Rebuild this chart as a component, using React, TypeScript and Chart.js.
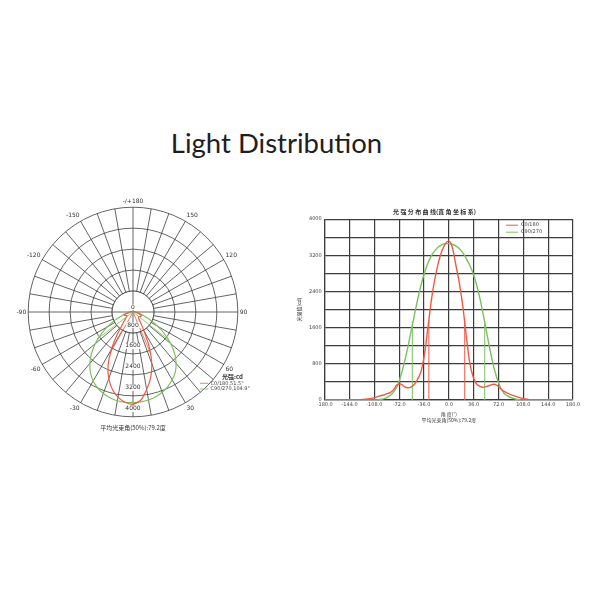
import React, { useEffect, useRef } from "react";
import { Chart, registerables } from "chart.js";

Chart.register(...registerables);

// angles in degrees, 5° apart
const angles = [
  -180, -175, -170, -165, -160, -155, -150, -145, -140, -135, -130, -125, -120,
  -115, -110, -105, -100, -95, -90, -85, -80, -75, -70, -65, -60, -55, -50, -45,
  -40, -35, -30, -25, -20, -15, -10, -5, 0, 5, 10, 15, 20, 25, 30, 35, 40, 45,
  50, 55, 60, 65, 70, 75, 80, 85, 90, 95, 100, 105, 110, 115, 120, 125, 130,
  135, 140, 145, 150, 155, 160, 165, 170, 175, 180,
];

// C0/180 intensity (cd)
const redValues = [
  0, 0, 0, 0, 0, 0, 0, 0, 0, 0, 0,
  10, 20, 30, 40, 65, 90, 110, 140, 165, 230,
  340, 355, 300, 270, 285, 350, 470, 650, 1050, 1650,
  2250, 2700, 3050, 3300, 3460, 3520, 3380, 3000, 2600, 2100,
  1450, 850, 520, 360, 300, 280, 300, 330, 350, 320,
  250, 190, 150, 120, 90, 65, 40, 25, 12, 5,
  0, 0, 0, 0, 0, 0, 0, 0, 0, 0, 0, 0,
];

// C90/270 intensity (cd)
const greenValues = [
  0, 0, 0, 0, 0, 0, 0, 0, 0, 0, 0, 0, 0, 0, 0,
  3, 10, 25, 55, 100, 180, 300, 520, 800, 1130, 1500, 1880, 2240, 2560, 2830,
  3040, 3200, 3310, 3390, 3440, 3460, 3460, 3445, 3410, 3350, 3260, 3140, 2990,
  2810, 2560, 2250, 1880, 1480, 1080, 740, 470, 270, 150, 90, 55, 28, 10, 3,
  0, 0, 0, 0, 0, 0, 0, 0, 0, 0, 0, 0, 0, 0, 0,
];

// 50% beam edges
const redHalfAngles = [-29, 23];
const greenHalfAngles = [-53, 52];
const redHalfValue = 1760;
const greenHalfValue = 1730;

const ringValues = [0, 800, 1600, 2400, 3200, 4000];
const seriesNames = ["C0/180", "C90/270"];
const polarLegendNames = ["C0/180,51.5°", "C90/270,104.9°"];

const RED = "#ef5a46";
const GREEN = "#78c25c";
const GRID = "#3c3c3c";
const FONT = "'DejaVu Sans', 'Noto Sans CJK SC', sans-serif";
const CJK = "'Noto Sans CJK SC', 'DejaVu Sans', sans-serif";

Chart.defaults.font.family = FONT;

// radar goes clockwise from the top: 180, 175, ... -175
const radarAngles = [...angles].reverse().slice(0, -1);
const radarOf = (vals: number[]) => radarAngles.map((a) => vals[angles.indexOf(a)]);

const polarDecor = {
  id: "polarDecor",
  beforeDatasetsDraw(chart: any) {
    const s = chart.scales.r;
    const ctx = chart.ctx;
    const cx = s.xCenter;
    const cy = s.yCenter;
    const r0 = s.getDistanceFromCenterForValue(ringValues[1]);
    ctx.save();
    ctx.fillStyle = "#fff";
    ctx.beginPath();
    ctx.arc(cx, cy, r0, 0, Math.PI * 2);
    ctx.fill();
    ctx.strokeStyle = GRID;
    ctx.lineWidth = 0.8;
    ctx.beginPath();
    ctx.arc(cx, cy, r0, 0, Math.PI * 2);
    ctx.moveTo(cx - r0, cy);
    ctx.lineTo(cx + r0, cy);
    ctx.moveTo(cx, cy - r0);
    ctx.lineTo(cx, cy + r0);
    ctx.stroke();
    ctx.restore();
  },
  afterDatasetsDraw(chart: any) {
    const s = chart.scales.r;
    const ctx = chart.ctx;
    const cx = s.xCenter;
    const cy = s.yCenter;
    const R = s.drawingArea;
    ctx.save();
    // beam lines
    const beam = (list: number[], v: number, color: string) => {
      const d = s.getDistanceFromCenterForValue(v);
      ctx.strokeStyle = color;
      ctx.lineWidth = 0.8;
      list.forEach((a) => {
        const t = (a * Math.PI) / 180;
        ctx.beginPath();
        ctx.moveTo(cx, cy);
        ctx.lineTo(cx + Math.sin(t) * d, cy + Math.cos(t) * d);
        ctx.stroke();
      });
    };
    beam(redHalfAngles, redHalfValue, RED);
    beam(greenHalfAngles, greenHalfValue, GREEN);

    // ring labels along the 0° direction
    ctx.font = `6px ${FONT}`;
    ctx.textAlign = "center";
    ctx.textBaseline = "middle";
    ringValues.forEach((v) => {
      const d = s.getDistanceFromCenterForValue(v);
      const y = v === 0 ? cy - 5 : cy + d - 8;
      const txt = String(v);
      const w = ctx.measureText(txt).width;
      ctx.fillStyle = "#fff";
      ctx.fillRect(cx - w / 2 - 1, y - 3, w + 2, 6);
      ctx.fillStyle = "#333";
      ctx.fillText(txt, cx, y);
    });

    // legend
    ctx.textAlign = "left";
    ctx.font = `bold 6px ${CJK}`;
    ctx.fillStyle = "#333";
    ctx.fillText("光强:cd", cx + 0.85 * R, cy + 0.62 * R);
    ctx.font = `5px ${FONT}`;
    [RED, GREEN].forEach((c, i) => {
      const y = cy + (0.68 + i * 0.055) * R;
      ctx.strokeStyle = c;
      ctx.lineWidth = 0.8;
      ctx.beginPath();
      ctx.moveTo(cx + 0.64 * R, y);
      ctx.lineTo(cx + 0.72 * R, y);
      ctx.stroke();
      ctx.fillStyle = "#444";
      ctx.fillText(polarLegendNames[i], cx + 0.74 * R, y);
    });
    ctx.restore();
  },
};

const cartLegend = {
  id: "cartLegend",
  afterDatasetsDraw(chart: any) {
    const { right, top } = chart.chartArea;
    const ctx = chart.ctx;
    ctx.save();
    ctx.font = `5px ${FONT}`;
    ctx.textBaseline = "middle";
    chart.data.datasets.slice(0, 2).forEach((ds: any, i: number) => {
      const y = top + 6 + i * 7;
      ctx.strokeStyle = ds.borderColor;
      ctx.lineWidth = 1;
      ctx.beginPath();
      ctx.moveTo(right - 67, y);
      ctx.lineTo(right - 55, y);
      ctx.stroke();
      ctx.fillStyle = "#444";
      ctx.fillText(ds.label, right - 52, y);
    });
    ctx.restore();
  },
};

function PolarChart() {
  const ref = useRef<HTMLCanvasElement>(null);
  useEffect(() => {
    const ctx = ref.current?.getContext("2d");
    if (!ctx) return;
    const chart = new Chart(ctx, {
      type: "radar",
      data: {
        labels: radarAngles.map(String),
        datasets: [
          {
            label: seriesNames[0],
            data: radarOf(redValues),
            borderColor: RED,
            borderWidth: 1.2,
            pointRadius: 0,
            fill: false,
            tension: 0.2,
          },
          {
            label: seriesNames[1],
            data: radarOf(greenValues),
            borderColor: GREEN,
            borderWidth: 1.2,
            pointRadius: 0,
            fill: false,
            tension: 0.2,
          },
        ],
      },
      options: {
        animation: false,
        responsive: true,
        maintainAspectRatio: false,
        plugins: {
          legend: { display: false },
          tooltip: { enabled: false },
          title: {
            display: true,
            position: "bottom",
            text: "平均光束角(50%):79.2度",
            font: { size: 6, family: CJK, weight: "normal" },
            color: "#333",
            padding: { top: -4, bottom: 3 },
          },
        },
        scales: {
          r: {
            min: 0,
            max: 4000,
            ticks: { stepSize: 800, display: false },
            grid: { circular: true, color: GRID, lineWidth: 0.8 },
            angleLines: {
              color: GRID,
              lineWidth: (c: any) => (c.index % 2 === 0 ? 0.8 : 0),
            },
            pointLabels: {
              callback: (label: string) => {
                const a = Number(label);
                if (a === 0 || a % 30 !== 0) return "";
                return a === 180 ? "-/+180" : label;
              },
              font: { size: 6 },
              color: "#333",
              padding: 2,
            },
          },
        },
      },
      plugins: [polarDecor],
    } as any);
    return () => chart.destroy();
  }, []);
  return <canvas ref={ref} />;
}

function LineChart() {
  const ref = useRef<HTMLCanvasElement>(null);
  useEffect(() => {
    const ctx = ref.current?.getContext("2d");
    if (!ctx) return;
    const vline = (a: number, v: number, color: string) => ({
      data: [
        { x: a, y: 0 },
        { x: a, y: v },
      ],
      borderColor: color,
      borderWidth: 1,
      pointRadius: 0,
    });
    const chart = new Chart(ctx, {
      type: "line",
      data: {
        datasets: [
          {
            label: seriesNames[0],
            data: angles.map((a, i) => ({ x: a, y: redValues[i] })),
            borderColor: RED,
            borderWidth: 1.4,
            pointRadius: 0,
            cubicInterpolationMode: "monotone",
          },
          {
            label: seriesNames[1],
            data: angles.map((a, i) => ({ x: a, y: greenValues[i] })),
            borderColor: GREEN,
            borderWidth: 1.4,
            pointRadius: 0,
            cubicInterpolationMode: "monotone",
          },
          ...redHalfAngles.map((a) => vline(a, redHalfValue, RED)),
          ...greenHalfAngles.map((a) => vline(a, greenHalfValue, GREEN)),
        ],
      },
      options: {
        animation: false,
        responsive: true,
        maintainAspectRatio: false,
        layout: { padding: { right: 17 } },
        plugins: {
          legend: { display: false },
          tooltip: { enabled: false },
          title: {
            display: true,
            text: "光 强 分 布 曲 线(直 角 坐 标 系)",
            font: { size: 6, family: CJK, weight: "bold" },
            color: "#333",
            padding: { top: 3, bottom: 4 },
          },
        },
        scales: {
          x: {
            type: "linear",
            min: -180,
            max: 180,
            ticks: {
              stepSize: 36,
              autoSkip: false,
              maxRotation: 0,
              font: { size: 5 },
              color: "#444",
              padding: 2,
              callback: (v: any) => Number(v).toFixed(1),
            },
            grid: { color: GRID, lineWidth: 1.2, drawTicks: false },
            border: { color: GRID, width: 1.2 },
            title: {
              display: true,
              text: ["角 度(°)", "平均光束角(50%):79.2度"],
              font: { size: 5, family: CJK },
              color: "#333",
              padding: { top: 1, bottom: 0 },
            },
          },
          y: {
            min: 0,
            max: 4000,
            ticks: {
              stepSize: 400,
              font: { size: 5 },
              color: "#444",
              padding: 3,
              callback: (v: any) => (Number(v) % 800 === 0 ? String(v) : ""),
            },
            grid: { color: GRID, lineWidth: 1.2, drawTicks: false },
            border: { color: GRID, width: 1.2 },
            title: {
              display: true,
              text: "光强值(cd)",
              font: { size: 5, family: CJK },
              color: "#333",
              padding: { top: 0, bottom: 4 },
            },
          },
        },
      },
      plugins: [cartLegend],
    } as any);
    return () => chart.destroy();
  }, []);
  return <canvas ref={ref} />;
}

export default function App() {
  return (
    <div
      style={{
        position: "absolute",
        left: 0,
        top: 0,
        width: 600,
        height: 600,
        background: "#fff",
      }}
    >
      <div
        style={{
          position: "absolute",
          left: 0,
          top: 129,
          width: 553,
          textAlign: "center",
          fontFamily: "Lato, 'Open Sans', sans-serif",
          fontSize: 27.5,
          lineHeight: "28px",
          color: "#1e1e1e",
        }}
      >
        Light Distribution
      </div>
      <div
        style={{
          position: "absolute",
          left: 6,
          top: 198,
          width: 254,
          height: 236,
        }}
      >
        <PolarChart />
      </div>
      <div
        style={{
          position: "absolute",
          left: 296,
          top: 205,
          width: 294,
          height: 218,
        }}
      >
        <LineChart />
      </div>
    </div>
  );
}
